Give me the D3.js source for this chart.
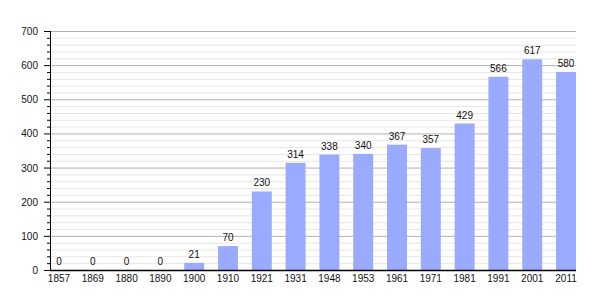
<!DOCTYPE html>
<html><head><meta charset="utf-8">
<script src="https://cdn.jsdelivr.net/npm/d3@7"></script>
<style>body{margin:0;background:#fff}svg{display:block}text{font-family:"Liberation Sans",Arial,sans-serif}</style>
</head><body><svg id="c" width="605" height="300"></svg>
<script>
const years = ["1857","1869","1880","1890","1900","1910","1921","1931","1948","1953","1961","1971","1981","1991","2001","2011"];
const population = [0,0,0,0,21,70,230,314,338,340,367,357,429,566,617,580];
const yTicks = [0,100,200,300,400,500,600,700];

(function(){
const svg = d3.select("#c");
const pL = 50, pR = 576, pT = 31, pB = 270;
const fs = 10;
const x = d3.scaleBand().domain(years).range([49, pR]).paddingInner(0.41).paddingOuter(0);
const y = d3.scaleLinear().domain([0,700]).range([pB, pT]);

const minor = d3.range(0, 701, 20).filter(v => v % 100 !== 0);
svg.append("g").selectAll("line").data(minor).join("line")
  .attr("x1", pL).attr("x2", pR).attr("y1", d => y(d)+0.5).attr("y2", d => y(d)+0.5)
  .attr("stroke", "#e6e6e6").attr("stroke-width", 1);
svg.append("g").selectAll("line").data(yTicks.filter(v=>v>0)).join("line")
  .attr("x1", pL).attr("x2", pR).attr("y1", d => y(d)+0.5).attr("y2", d => y(d)+0.5)
  .attr("stroke", "#b0b0b0").attr("stroke-width", 1);

svg.append("g").selectAll("rect").data(population).join("rect")
  .attr("x", (d,i) => x(years[i])).attr("width", x.bandwidth())
  .attr("y", d => y(d)).attr("height", d => pB - y(d))
  .attr("fill", "#99aaff");

svg.append("g").selectAll("text").data(population).join("text")
  .attr("x", (d,i) => x(years[i]) + x.bandwidth()/2).attr("y", d => y(d) - 5)
  .attr("text-anchor", "middle").attr("font-size", fs).attr("fill", "#111")
  .text(d => d);

const ya = svg.append("g");
ya.selectAll("line.mi").data(minor).join("line").attr("class","mi")
  .attr("x1", 47).attr("x2", pL).attr("y1", d => y(d)+0.5).attr("y2", d => y(d)+0.5)
  .attr("stroke", "#000");
ya.selectAll("line.ma").data(yTicks).join("line").attr("class","ma")
  .attr("x1", 44).attr("x2", pL).attr("y1", d => y(d)+0.5).attr("y2", d => y(d)+0.5)
  .attr("stroke", "#000");
ya.selectAll("text").data(yTicks).join("text")
  .attr("x", 38).attr("y", d => y(d) + 4).attr("text-anchor", "end")
  .attr("font-size", fs).attr("fill", "#111").text(d => d);
ya.append("line").attr("x1", pL+0.5).attr("x2", pL+0.5).attr("y1", pT).attr("y2", pB+1).attr("stroke", "#000");

svg.append("line").attr("x1", pL).attr("x2", pR).attr("y1", pB+0.5).attr("y2", pB+0.5).attr("stroke", "#000").attr("stroke-width", 1.5);
svg.append("g").selectAll("text").data(years).join("text")
  .attr("x", d => x(d) + x.bandwidth()/2).attr("y", 282)
  .attr("text-anchor", "middle").attr("font-size", fs).attr("fill", "#111").text(d => d);
})();
</script></body></html>
